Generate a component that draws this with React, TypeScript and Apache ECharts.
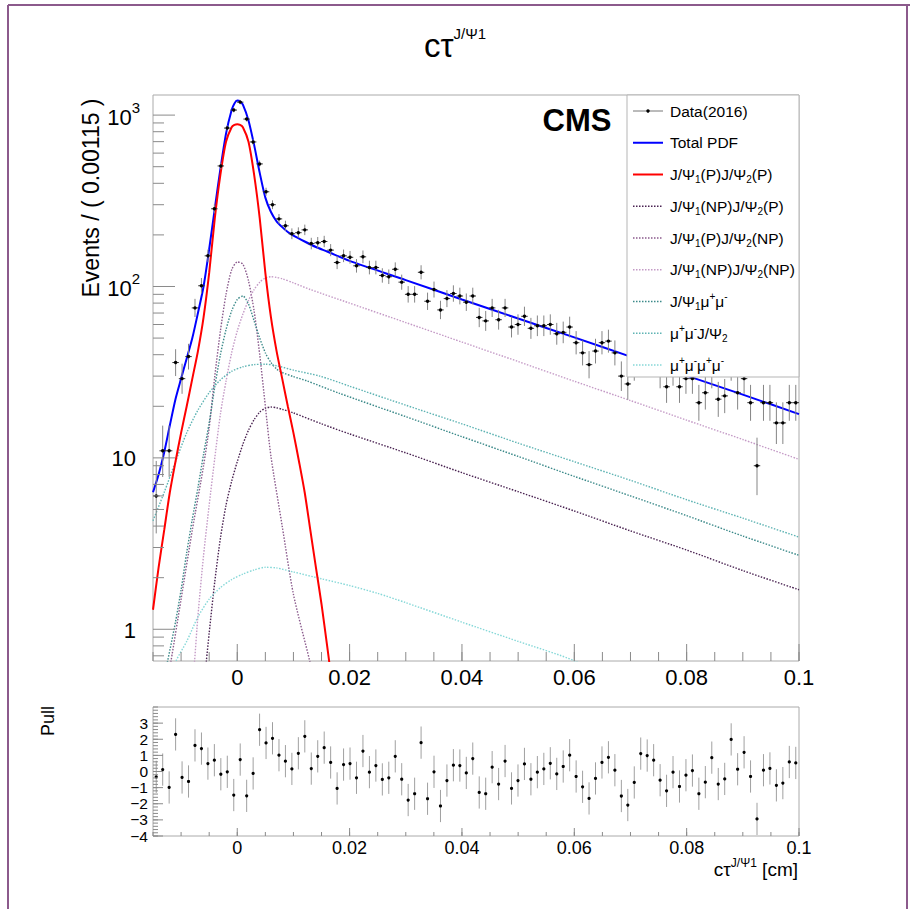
import React, { useEffect, useRef } from 'react';
import * as echarts from 'echarts';

const FONT = '"Liberation Sans", Arial, Helvetica, sans-serif';

// ---- binning of the data histogram ----
const binLow = -0.015;
const binWidth = 0.00115;

// ---- data counts per bin (Events / 0.00115) ----
const dataCounts = [
  6, 11, 11, 36, 29, 39, 75, 101, 151, 284,
  505, 840, 1070, 1190, 948, 697, 519, 357, 300, 248,
  226, 203, 206, 214, 178, 180, 183, 163, 138, 151,
  148, 132, 149, 129, 129, 116, 114, 126, 106, 90,
  90, 121, 82, 96, 73, 85, 91, 88, 81, 88,
  66, 63, 75, 64, 75, 58, 60, 67, 57, 59,
  59, 60, 53, 54, 58, 47, 41, 35, 42, 47,
  48, 41, 30, 27, 34, 44, 42, 39, 31, 26,
  32, 26, 29, 29, 21, 24, 31, 22, 23, 34,
  24, 29, 21, 9, 21, 21, 16, 16, 21, 21,
];

// ---- pull per bin ----
const pullValues = [
  -0.33, 0.12, -0.99, 2.3, -0.37, -0.62, 1.62, 1.42, 0.49, 0.7,
  -0.17, -0.02, -1.46, 0.74, -1.51, -0.12, 2.59, 1.77, 2.06, 1.01,
  0.64, 0.16, 1.13, 2.18, 0.18, 0.94, 1.48, 0.56, -1.05, 0.43,
  0.49, -0.39, 1.27, -0.04, 0.37, -0.49, -0.39, 0.94, -0.48, -1.77,
  -1.38, 1.79, -1.69, -0.02, -2.14, -0.56, 0.39, 0.37, -0.09, 0.8,
  -1.3, -1.38, 0.27, -0.78, 0.65, -1.05, -0.56, 0.47, -0.48, -0.04,
  0.16, 0.51, -0.15, 0.31, 1.01, -0.31, -0.95, -1.67, -0.43, 0.56,
  0.88, 0.08, -1.52, -2.08, -0.68, 1.11, 0.99, 0.7, -0.54, -1.2,
  -0.04, -0.93, -0.23, 0.06, -1.38, -0.66, 0.86, -0.78, -0.46, 1.99,
  0.14, 1.19, -0.31, -2.94, 0.08, 0.19, -0.86, -0.72, 0.59, 0.53,
];

// ---- fitted curves [ctau, events] ----
const totalPdf = [
  [-0.015, 6.3], [-0.014, 8.0], [-0.013, 10.8], [-0.012, 15.5], [-0.011, 22], [-0.01, 29],
  [-0.009, 38], [-0.008, 50], [-0.007, 70], [-0.006, 100], [-0.005, 165], [-0.004, 285],
  [-0.003, 485], [-0.002, 780], [-0.001, 1070], [-0.0005, 1170], [0, 1215], [0.0005, 1205],
  [0.001, 1150], [0.002, 930], [0.003, 670], [0.004, 460], [0.005, 330], [0.006, 272],
  [0.007, 240], [0.008, 222], [0.009, 208], [0.01, 198], [0.012, 183], [0.014, 170],
  [0.016, 160], [0.02, 141], [0.03, 109], [0.04, 84], [0.05, 65], [0.06, 50.5],
  [0.07, 39], [0.08, 30.2], [0.09, 23.4], [0.1, 18.0],
];
const pdfPP = [
  [-0.015, 1.3], [-0.014, 2.3], [-0.013, 3.8], [-0.012, 6.3], [-0.011, 9.5], [-0.01, 14],
  [-0.009, 20], [-0.008, 29], [-0.007, 42], [-0.006, 66], [-0.005, 120], [-0.004, 250],
  [-0.003, 450], [-0.002, 700], [-0.001, 850], [-0.0005, 876], [0, 884], [0.0005, 876],
  [0.001, 850], [0.002, 700], [0.003, 450], [0.004, 250], [0.005, 120], [0.006, 66],
  [0.007, 42], [0.008, 29], [0.009, 20], [0.01, 14], [0.011, 9.5], [0.012, 6.3],
  [0.013, 3.8], [0.014, 2.3], [0.015, 1.4], [0.016, 0.8], [0.017, 0.45],
];
const pdfNPP = [
  [-0.006, 0.45], [-0.0055, 0.653], [-0.005, 0.95], [-0.004, 1.9], [-0.003, 3.4], [-0.002, 5.3],
  [-0.001, 7.3], [0, 9.5], [0.001, 12], [0.002, 14.5], [0.003, 16.7], [0.004, 18.5],
  [0.005, 19.5], [0.006, 19.8], [0.007, 19.6], [0.008, 19.2], [0.01, 18.3], [0.015, 15.8],
  [0.02, 13.8], [0.03, 10.7], [0.04, 8.2], [0.05, 6.35], [0.06, 4.9], [0.07, 3.75],
  [0.08, 2.9], [0.09, 2.2], [0.1, 1.7],
];
const pdfPNP = [
  [-0.013, 0.4], [-0.0118, 0.653], [-0.01, 1.5], [-0.008, 3.8], [-0.006, 9], [-0.005, 15],
  [-0.004, 30], [-0.003, 55], [-0.002, 90], [-0.001, 125], [0, 139], [0.001, 135],
  [0.002, 108], [0.003, 72], [0.004, 40], [0.005, 20], [0.006, 10.2], [0.008, 4.0],
  [0.01, 1.6], [0.0129, 0.653], [0.014, 0.45],
];
const pdfNPNP = [
  [-0.0085, 0.3], [-0.0076, 0.653], [-0.007, 1.2], [-0.006, 2.7], [-0.005, 5.3], [-0.004, 10],
  [-0.003, 18], [-0.002, 28], [-0.001, 41], [0, 55], [0.001, 69], [0.002, 83],
  [0.003, 96], [0.004, 106], [0.005, 112], [0.006, 114], [0.007, 113], [0.008, 111],
  [0.01, 105], [0.013, 96], [0.02, 80], [0.03, 61.6], [0.04, 47.4], [0.05, 36.5],
  [0.06, 28], [0.07, 21.6], [0.08, 16.6], [0.09, 12.8], [0.1, 9.8],
];
const pdfJ1MuMu = [
  [-0.0135, 0.45], [-0.0124, 0.653], [-0.011, 1.1], [-0.01, 1.7], [-0.009, 2.8], [-0.008, 4.4],
  [-0.007, 6.7], [-0.006, 10.5], [-0.005, 16], [-0.004, 26], [-0.003, 40], [-0.002, 56],
  [-0.001, 72], [0, 84], [0.001, 88], [0.002, 79], [0.003, 63], [0.004, 50],
  [0.005, 41], [0.006, 36], [0.007, 33], [0.008, 31.5], [0.01, 29.8], [0.0123, 28.2],
  [0.0182, 23.8], [0.03, 17.4], [0.04, 13.3], [0.05, 10.2], [0.06, 7.8], [0.07, 6.0],
  [0.08, 4.6], [0.09, 3.5], [0.1, 2.7],
];
const pdfMuMuJ2 = [
  [-0.015, 4.3], [-0.013, 6.3], [-0.011, 9.5], [-0.009, 14], [-0.007, 19], [-0.005, 24],
  [-0.003, 28.5], [-0.001, 32], [0.001, 34], [0.003, 35], [0.005, 35.2], [0.007, 34.5],
  [0.01, 32.5], [0.0147, 30], [0.02, 26.2], [0.03, 20.3], [0.04, 15.8], [0.05, 12.2],
  [0.06, 9.5], [0.07, 7.4], [0.08, 5.7], [0.09, 4.45], [0.1, 3.45],
];
const pdfMuMuMuMu = [
  [-0.012, 0.5], [-0.0109, 0.653], [-0.009, 0.85], [-0.007, 1.18], [-0.005, 1.5], [-0.003, 1.75],
  [-0.001, 1.95], [0.001, 2.1], [0.003, 2.22], [0.005, 2.3], [0.007, 2.28], [0.01, 2.16],
  [0.015, 1.97], [0.02, 1.8], [0.025, 1.62], [0.03, 1.43], [0.04, 1.1], [0.05, 0.85],
  [0.06, 0.655], [0.066, 0.5],
];

// ---- axes ticks / labels ----
const xMajorTicks = [0, 0.02, 0.04, 0.06, 0.08, 0.1];
const xTickLabels = ['0', '0.02', '0.04', '0.06', '0.08', '0.1'];
const xMinorStep = 0.005;
const yMajorTicks = [1, 10, 100, 1000];
const yTickLabels = ['1', '10', '{b|10}{p|2}', '{b|10}{p|3}'];
const pullMajorTicks = [-4, -3, -2, -1, 0, 1, 2, 3];
const pullTickLabels = ['\u22124', '\u22123', '\u22122', '\u22121', '0', '1', '2', '3'];

// ---- legend ----
const legendLabels = [
  'Data(2016)',
  'Total PDF',
  'J/\u03A8{s|1}(P)J/\u03A8{s|2}(P)',
  'J/\u03A8{s|1}(NP)J/\u03A8{s|2}(P)',
  'J/\u03A8{s|1}(P)J/\u03A8{s|2}(NP)',
  'J/\u03A8{s|1}(NP)J/\u03A8{s|2}(NP)',
  'J/\u03A8{s|1}\u03BC{p|+}\u03BC{p|-}',
  '\u03BC{p|+}\u03BC{p|-}J/\u03A8{s|2}',
  '\u03BC{p|+}\u03BC{p|-}\u03BC{p|+}\u03BC{p|-}',
];
const curveColors = ['#0000ff', '#ff0000', '#4a2352', '#8a5a8c', '#c49ac6', '#3c8a8a', '#5fb4b4', '#86d8d8'];
const curveData = [totalPdf, pdfPP, pdfNPP, pdfPNP, pdfNPNP, pdfJ1MuMu, pdfMuMuJ2, pdfMuMuMuMu];

const Y_MIN = 0.653;
const Y_MAX = 1310;
const X_MIN = -0.015;
const X_MAX = 0.1;

function binCenter(i: number) {
  return binLow + binWidth * (i + 0.5);
}
function errLow(n: number) {
  if (n <= 0) return 0;
  const l = n * Math.pow(1 - 1 / (9 * n) - 1 / (3 * Math.sqrt(n)), 3);
  return n - l;
}
function errHigh(n: number) {
  return Math.sqrt(n + 0.75) + 1;
}

const richScript = {
  s: { fontSize: 10, lineHeight: 10, verticalAlign: 'bottom', fontFamily: FONT, fill: '#000' },
  p: { fontSize: 10, lineHeight: 10, verticalAlign: 'top', fontFamily: FONT, fill: '#000' },
};

function buildOption() {
  const tickColor = '#8a8a8a';
  const lineSeries = curveData.map((d, k) => ({
    type: 'line',
    xAxisIndex: 0,
    yAxisIndex: 0,
    data: d,
    showSymbol: false,
    symbol: 'none',
    smooth: 0.25,
    clip: true,
    silent: true,
    z: k < 2 ? 4 : 3,
    lineStyle: {
      color: curveColors[k],
      width: k < 2 ? 2 : 1.4,
      type: k < 2 ? 'solid' : [1.5, 1.5],
    },
  }));

  const dataSeries = {
    type: 'custom',
    xAxisIndex: 0,
    yAxisIndex: 0,
    z: 6,
    silent: true,
    data: dataCounts.map((n, i) => [binCenter(i), n, n - errLow(n), n + errHigh(n)]),
    renderItem: (params: any, api: any) => {
      const x = api.value(0);
      const y = api.value(1);
      const c = api.coord([x, y]);
      const lo = api.coord([x, api.value(2)]);
      const hi = api.coord([x, api.value(3)]);
      const l = api.coord([x - binWidth / 2, y]);
      const r = api.coord([x + binWidth / 2, y]);
      return {
        type: 'group',
        children: [
          { type: 'line', shape: { x1: c[0], y1: hi[1], x2: c[0], y2: lo[1] }, style: { stroke: '#858585', lineWidth: 1 } },
          { type: 'line', shape: { x1: l[0], y1: c[1], x2: r[0], y2: c[1] }, style: { stroke: '#333', lineWidth: 1 } },
          { type: 'circle', shape: { cx: c[0], cy: c[1], r: 1.7 }, style: { fill: '#000' } },
        ],
      };
    },
  };

  const pullSeries = {
    type: 'custom',
    xAxisIndex: 1,
    yAxisIndex: 1,
    z: 6,
    silent: true,
    data: pullValues.map((p, i) => [binCenter(i), p]),
    renderItem: (params: any, api: any) => {
      const x = api.value(0);
      const y = api.value(1);
      const c = api.coord([x, y]);
      const hi = api.coord([x, y + 1]);
      const lo = api.coord([x, y - 1]);
      return {
        type: 'group',
        children: [
          { type: 'line', shape: { x1: c[0], y1: hi[1], x2: c[0], y2: lo[1] }, style: { stroke: '#a0a0a0', lineWidth: 1 } },
          { type: 'circle', shape: { cx: c[0], cy: c[1], r: 1.6 }, style: { fill: '#000' } },
        ],
      };
    },
  };

  const mainTicks = {
    type: 'custom',
    xAxisIndex: 0,
    yAxisIndex: 0,
    z: 8,
    silent: true,
    clip: false,
    data: [[0, 10]],
    renderItem: (params: any, api: any) => {
      const cs = params.coordSys;
      const L = cs.x;
      const B = cs.y + cs.height;
      const ch: any[] = [];
      const seg = (x1: number, y1: number, x2: number, y2: number) =>
        ch.push({ type: 'line', shape: { x1, y1, x2, y2 }, style: { stroke: tickColor, lineWidth: 1 } });
      for (let v = X_MIN; v <= X_MAX + 1e-9; v += xMinorStep) {
        const p = api.coord([v, 1]);
        seg(p[0], B, p[0], B - 9);
      }
      xMajorTicks.forEach((v, i) => {
        const p = api.coord([v, 1]);
        seg(p[0], B, p[0], B - 17);
        ch.push({
          type: 'text',
          style: { text: xTickLabels[i], x: p[0], y: B + 16, align: 'center', verticalAlign: 'middle', font: `22px ${FONT}`, fill: '#000' },
        });
      });
      for (let k = -1; k <= 3; k++) {
        for (let m = 2; m <= 9; m++) {
          const v = m * Math.pow(10, k);
          if (v < Y_MIN || v > Y_MAX) continue;
          const p = api.coord([0, v]);
          seg(L, p[1], L + 11, p[1]);
        }
      }
      yMajorTicks.forEach((v, i) => {
        const p = api.coord([0, v]);
        seg(L, p[1], L + 22, p[1]);
        const isRich = yTickLabels[i].indexOf('{') >= 0;
        ch.push({
          type: 'text',
          style: {
            text: yTickLabels[i],
            x: isRich ? 140 : 136,
            y: p[1] + (isRich ? -1 : 1),
            align: 'right',
            verticalAlign: 'middle',
            font: `22px ${FONT}`,
            fill: '#000',
            rich: {
              b: { fontSize: 22, lineHeight: 28, verticalAlign: 'bottom', fontFamily: FONT, fill: '#000' },
              p: { fontSize: 15, lineHeight: 15, verticalAlign: 'top', fontFamily: FONT, fill: '#000' },
            },
          },
        });
      });
      return { type: 'group', children: ch };
    },
  };

  const pullTicks = {
    type: 'custom',
    xAxisIndex: 1,
    yAxisIndex: 1,
    z: 8,
    silent: true,
    clip: false,
    data: [[0, 0]],
    renderItem: (params: any, api: any) => {
      const cs = params.coordSys;
      const L = cs.x;
      const B = cs.y + cs.height;
      const ch: any[] = [];
      const seg = (x1: number, y1: number, x2: number, y2: number) =>
        ch.push({ type: 'line', shape: { x1, y1, x2, y2 }, style: { stroke: tickColor, lineWidth: 1 } });
      for (let v = X_MIN; v <= X_MAX + 1e-9; v += xMinorStep) {
        const p = api.coord([v, 0]);
        seg(p[0], B, p[0], B - 4);
      }
      xMajorTicks.forEach((v, i) => {
        const p = api.coord([v, 0]);
        seg(p[0], B, p[0], B - 8);
        ch.push({
          type: 'text',
          style: { text: xTickLabels[i], x: p[0], y: B + 12, align: 'center', verticalAlign: 'middle', font: `18px ${FONT}`, fill: '#000' },
        });
      });
      for (let v = -4; v <= 4 + 1e-9; v += 0.2) {
        const p = api.coord([0, v]);
        seg(L, p[1], L + 5, p[1]);
      }
      pullMajorTicks.forEach((v, i) => {
        const p = api.coord([0, v]);
        seg(L, p[1], L + 10, p[1]);
        ch.push({
          type: 'text',
          style: { text: pullTickLabels[i], x: 148, y: p[1], align: 'right', verticalAlign: 'middle', font: `15.5px ${FONT}`, lineHeight: 15, fill: '#000' },
        });
      });
      return { type: 'group', children: ch };
    },
  };

  // legend graphic
  const legX = 627;
  const legY = 95;
  const legW = 172;
  const legH = 282;
  const rowY0 = 111;
  const rowStep = 31.75;
  const legendEls: any[] = [
    { type: 'rect', z: 100, shape: { x: legX, y: legY, width: legW, height: legH }, style: { fill: '#fff', stroke: '#b5b5b5', lineWidth: 1 } },
  ];
  legendLabels.forEach((lab, i) => {
    const y = rowY0 + rowStep * i;
    if (i === 0) {
      legendEls.push({ type: 'line', z: 101, shape: { x1: 633, y1: y, x2: 663, y2: y }, style: { stroke: '#777', lineWidth: 1 } });
      legendEls.push({ type: 'circle', z: 101, shape: { cx: 648, cy: y, r: 1.7 }, style: { fill: '#000' } });
    } else {
      const k = i - 1;
      legendEls.push({
        type: 'line',
        z: 101,
        shape: { x1: 633, y1: y, x2: 663, y2: y },
        style: { stroke: curveColors[k], lineWidth: k < 2 ? 2 : 1.4, lineDash: k < 2 ? null : [1.5, 1.5] },
      });
    }
    legendEls.push({
      type: 'text',
      z: 101,
      x: 670,
      y: y,
      style: {
        text: lab,
        font: `15.5px ${FONT}`,
        fill: '#000',
        align: 'left',
        verticalAlign: 'middle',
        lineHeight: 20,
        rich: richScript,
      },
    });
  });

  const graphic = [
    // page border
    { type: 'line', shape: { x1: 8, y1: 5, x2: 910, y2: 5 }, style: { stroke: '#8c5a8c', lineWidth: 2 } },
    { type: 'line', shape: { x1: 8, y1: 5, x2: 8, y2: 909 }, style: { stroke: '#8c5a8c', lineWidth: 2 } },
    { type: 'line', shape: { x1: 907, y1: 5, x2: 907, y2: 909 }, style: { stroke: '#8c5a8c', lineWidth: 2 } },
    // title
    {
      type: 'text',
      x: 455,
      y: 44,
      style: {
        text: '{b|c\u03C4}{p|J/\u03A81}',
        align: 'center',
        verticalAlign: 'middle',
        rich: {
          b: { fontSize: 33, lineHeight: 36, verticalAlign: 'bottom', fontFamily: FONT, fill: '#000' },
          p: { fontSize: 15, lineHeight: 15, verticalAlign: 'top', fontFamily: FONT, fill: '#000' },
        },
      },
    },
    // y title
    {
      type: 'text',
      x: 91,
      y: 198,
      rotation: Math.PI / 2,
      style: { text: 'Events / ( 0.00115 )', font: `23px ${FONT}`, fill: '#000', align: 'center', verticalAlign: 'middle' },
    },
    // pull title
    {
      type: 'text',
      x: 48,
      y: 721,
      rotation: Math.PI / 2,
      style: { text: 'Pull', font: `18px ${FONT}`, fill: '#000', align: 'center', verticalAlign: 'middle' },
    },
    // CMS
    {
      type: 'text',
      x: 577,
      y: 120,
      z: 50,
      style: { text: 'CMS', font: `bold 31px ${FONT}`, fill: '#000', align: 'center', verticalAlign: 'middle' },
    },
    // x title
    {
      type: 'text',
      x: 798,
      y: 868,
      style: {
        text: '{b|c\u03C4}{p|J/\u03A81}{b| [cm]}',
        align: 'right',
        verticalAlign: 'middle',
        rich: {
          b: { fontSize: 19, lineHeight: 22, verticalAlign: 'bottom', fontFamily: FONT, fill: '#000' },
          p: { fontSize: 12, lineHeight: 12, verticalAlign: 'top', fontFamily: FONT, fill: '#000' },
        },
      },
    },
    ...legendEls,
  ];

  const hiddenAxis = {
    axisLabel: { show: false },
    axisTick: { show: false },
    axisLine: { show: false },
    splitLine: { show: false },
  };

  return {
    animation: false,
    backgroundColor: '#fff',
    grid: [
      { left: 153, top: 95, width: 646, height: 566, show: true, borderColor: '#aaaaaa', borderWidth: 1, backgroundColor: 'transparent' },
      { left: 153, top: 707, width: 646, height: 129, show: true, borderColor: '#aaaaaa', borderWidth: 1, backgroundColor: 'transparent' },
    ],
    xAxis: [
      { type: 'value', gridIndex: 0, min: X_MIN, max: X_MAX, ...hiddenAxis },
      { type: 'value', gridIndex: 1, min: X_MIN, max: X_MAX, ...hiddenAxis },
    ],
    yAxis: [
      { type: 'log', logBase: 10, gridIndex: 0, min: Y_MIN, max: Y_MAX, ...hiddenAxis },
      { type: 'value', gridIndex: 1, min: -4, max: 4, ...hiddenAxis },
    ],
    series: [...lineSeries, dataSeries, pullSeries, mainTicks, pullTicks],
    graphic,
  };
}

export default function App() {
  const ref = useRef<HTMLDivElement>(null);
  useEffect(() => {
    if (!ref.current) return;
    const chart = echarts.init(ref.current, null, { renderer: 'svg' });
    chart.setOption(buildOption() as any);
    return () => {
      chart.dispose();
    };
  }, []);
  return (
    <div
      ref={ref}
      style={{ position: 'fixed', left: 0, top: 0, width: 910, height: 909, background: '#fff' }}
    />
  );
}
